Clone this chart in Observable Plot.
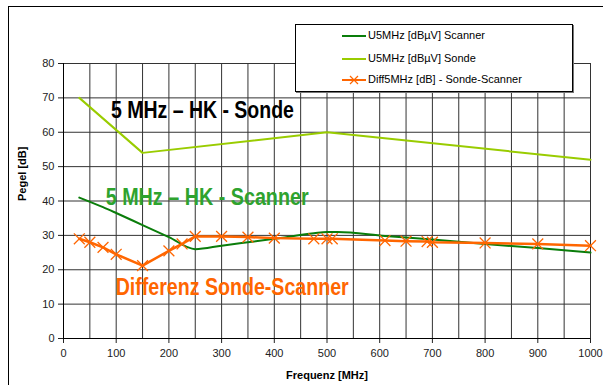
<!DOCTYPE html>
<html><head><meta charset="utf-8">
<script src="https://cdn.jsdelivr.net/npm/d3@7"></script>
<script src="https://cdn.jsdelivr.net/npm/@observablehq/plot@0.6"></script>
<style>
body{margin:0;background:#fff;}
#wrap{position:relative;width:603px;height:385px;overflow:hidden;font-family:"Liberation Sans",Arial,sans-serif;}
#frame{position:absolute;left:8px;top:6px;width:700px;height:500px;border:1px solid #000;box-sizing:border-box;pointer-events:none;}
#legend{position:absolute;left:295px;top:24px;width:278px;height:68px;background:#fff;border:1px solid #000;box-sizing:border-box;box-shadow:1px 1px 0 #777;}
.li{position:absolute;left:46px;font-size:11px;color:#000;white-space:nowrap;}
.li svg{vertical-align:middle;margin-right:2px;}
</style></head>
<body><div id="wrap"><div id="frame"></div><div id="chart"></div><div id="legend"></div></div>
<script>
const freqSonde = [30, 150, 500, 1000];
const sonde = [70, 54, 60, 52];
const freqScanner = [30, 75, 100, 150, 200, 250, 300, 400, 475, 500, 520, 610, 700, 800, 900, 1000];
const scanner = [41, 38.2, 36.5, 33, 29.5, 26, 27, 29, 30.6, 31, 31, 29.8, 28.8, 27.5, 26.3, 25];
const freqDiff = [30, 50, 75, 100, 150, 200, 225, 250, 300, 350, 400, 475, 500, 510, 610, 650, 690, 700, 800, 900, 1000];
const diff = [29, 28, 26.5, 24.5, 21.2, 25.5, 27.5, 29.7, 29.7, 29.5, 29.2, 29, 29, 29, 28.5, 28.3, 28.2, 28, 27.8, 27.5, 27];
const xTicks = [0,100,200,300,400,500,600,700,800,900,1000];
const xGrid = d3.range(0, 1001, 50);
const yTicks = [0,10,20,30,40,50,60,70,80];
const legendLabels = ["U5MHz [dBµV] Scanner","U5MHz [dBµV] Sonde","Diff5MHz [dB] - Sonde-Scanner"];
const annotations = [
  {x: 90, y: 66.3, text: "5 MHz \u2013 HK - Sonde", color: "#000", w: 183},
  {x: 80, y: 41.1, text: "5 MHz \u2013 HK - Scanner", color: "#2ea32e", w: 203},
  {x: 99, y: 14.9, text: "Differenz Sonde-Scanner", color: "#ff6600", w: 233}
];
const cScanner = "#0a7d0a", cSonde = "#99cc00", cDiff = "#ff6600";

const sondeData = freqSonde.map((f,i)=>({f, v: sonde[i]}));
const scannerData = freqScanner.map((f,i)=>({f, v: scanner[i]}));
const diffData = freqDiff.map((f,i)=>({f, v: diff[i]}));

const chart = Plot.plot({
  width: 603, height: 385,
  marginLeft: 63, marginRight: 13, marginTop: 63, marginBottom: 47,
  style: {fontFamily: '"Liberation Sans", Arial, sans-serif', fontSize: "11px", background: "transparent", color: "#222"},
  x: {domain: [0, 1000], label: null},
  y: {domain: [0, 80], label: null},
  marks: [
    Plot.ruleX(xGrid, {stroke: "#333", strokeWidth: 1}),
    Plot.ruleY(yTicks, {stroke: "#333", strokeWidth: 1}),
    Plot.line(sondeData, {x: "f", y: "v", stroke: cSonde, strokeWidth: 2}),
    Plot.line(scannerData, {x: "f", y: "v", stroke: cScanner, strokeWidth: 2, curve: "monotone-x"}),
    Plot.line(diffData, {x: "f", y: "v", stroke: cDiff, strokeWidth: 2.5}),
    Plot.dot(diffData, {x: "f", y: "v", symbol: "times", r: 5, stroke: cDiff, strokeWidth: 1.3}),
    Plot.text(annotations, {x: "x", y: "y", text: "text", fill: "color", textAnchor: "start", className: "ann",
      fontSize: 24, fontWeight: "bold", fontFamily: '"Liberation Sans", Arial, sans-serif'}),
    Plot.axisX({ticks: xTicks, tickFormat: d3.format("d"), tickSize: 5, tickPadding: 6, label: null, fontSize: 11}),
    Plot.axisY({ticks: yTicks, tickFormat: d3.format("d"), tickSize: 5, tickPadding: 4, label: null, fontSize: 11}),
    Plot.ruleY([0], {stroke: "#000"}),
    Plot.ruleX([0], {stroke: "#000"}),
    Plot.text(["Frequenz [MHz]"], {frameAnchor: "bottom", dy: 40, fontWeight: "bold", fontSize: 11, fill: "#000"}),
    Plot.text(["Pegel [dB]"], {frameAnchor: "left", dx: -41, rotate: -90, fontWeight: "bold", fontSize: 11, fill: "#000"})
  ]
});
document.getElementById("chart").appendChild(chart);
d3.select(chart).selectAll(".ann text").each(function(d, i) {
  d3.select(this).attr("textLength", annotations[i].w).attr("lengthAdjust", "spacingAndGlyphs");
});

const leg = document.getElementById("legend");
const colors = [cScanner, cSonde, cDiff];
const tops = [4, 27, 48];
legendLabels.forEach((lab, i) => {
  const d = document.createElement("div");
  d.className = "li";
  d.style.top = tops[i] + "px";
  let sv = `<svg width="24" height="10"><line x1="0" y1="5" x2="24" y2="5" stroke="${colors[i]}" stroke-width="2"/>`;
  if (i === 2) sv += `<path d="M8,1L16,9M16,1L8,9" stroke="${colors[i]}" stroke-width="1.2"/>`;
  sv += `</svg>`;
  d.innerHTML = sv + lab;
  leg.appendChild(d);
});
</script></body></html>
